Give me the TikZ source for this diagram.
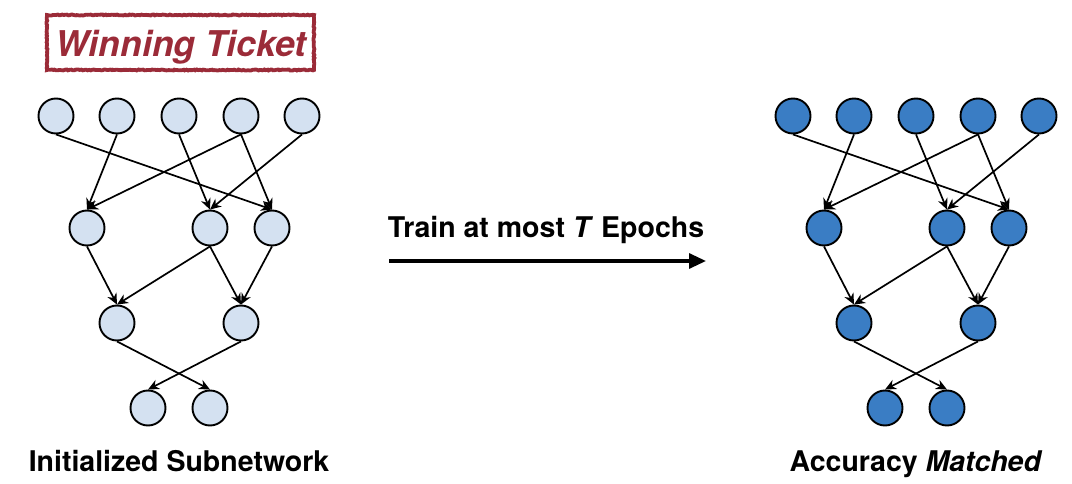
\documentclass[tikz,border=0pt]{standalone}
\usepackage{fontspec}
\setmainfont{TeX Gyre Heros}
\usetikzlibrary{arrows.meta,decorations.pathmorphing}
\definecolor{lightblue}{HTML}{D4E1F1}
\definecolor{darkblue}{HTML}{3A7DC4}
\definecolor{ticketred}{HTML}{9B2B38}
\tikzset{
  neuron/.style={circle,draw=black,line width=1.9pt,minimum size=35pt,inner sep=0pt},
  lightn/.style={neuron,fill=lightblue},
  darkn/.style={neuron,fill=darkblue},
  edge/.style={line width=1.7pt,-{Stealth[length=11pt,width=10pt]}},
  lbl/.style={font=\fontsize{28.5}{32}\selectfont\bfseries,anchor=base},
}
\begin{document}
\begin{tikzpicture}[x=1pt,y=-1pt]
\useasboundingbox (0,0) rectangle (1072,484);
% Winning ticket
\draw[ticketred,line width=3.8pt,decorate,decoration={random steps,segment length=1.5pt,amplitude=0.5pt}] (47,15) rectangle (314,70);
\node[font=\fontsize{35.5}{40}\selectfont\bfseries\itshape,text=ticketred,anchor=base] (wt) at (181,57) {Winning Ticket};
% networks
\foreach \side/\dx/\st in {L/0/lightn,R/737/darkn}{
  \node[\st] (\side a1) at (56+\dx,116) {};
  \node[\st] (\side a2) at (117+\dx,116) {};
  \node[\st] (\side a3) at (179+\dx,116) {};
  \node[\st] (\side a4) at (241+\dx,116) {};
  \node[\st] (\side a5) at (302+\dx,116) {};
  \node[\st] (\side b1) at (87+\dx,228) {};
  \node[\st] (\side b2) at (210+\dx,228) {};
  \node[\st] (\side b3) at (272+\dx,228) {};
  \node[\st] (\side c1) at (117+\dx,323) {};
  \node[\st] (\side c2) at (241+\dx,323) {};
  \node[\st] (\side d1) at (148+\dx,408) {};
  \node[\st] (\side d2) at (210+\dx,408) {};
  \draw[edge] (\side a1.south) -- (\side b3.north);
  \draw[edge] (\side a2.south) -- (\side b1.north);
  \draw[edge] (\side a3.south) -- (\side b2.north);
  \draw[edge] (\side a4.south) -- (\side b1.north);
  \draw[edge] (\side a4.south) -- (\side b3.north);
  \draw[edge] (\side a5.south) -- (\side b2.north);
  \draw[edge] (\side b1.south) -- (\side c1.north);
  \draw[edge] (\side b2.south) -- (\side c1.north);
  \draw[edge] (\side b2.south) -- (\side c2.north);
  \draw[edge] (\side b3.south) -- (\side c2.north);
  \draw[edge] (\side c1.south) -- (\side d2.north);
  \draw[edge] (\side c2.south) -- (\side d1.north);
}
% labels
\node[lbl] (init) at (179,471) {Initialized Subnetwork};
\node[lbl] (acc) at (916,471) {Accuracy \textit{Matched}};
\node[lbl] (train) at (546,237) {Train at most \textit{T} Epochs};
\coordinate (as) at (389,261);
\coordinate (ae) at (706,261);
\draw[line width=3.2pt,-{Triangle[length=17pt,width=15pt]}] (as) -- (ae);
\end{tikzpicture}
\end{document}
